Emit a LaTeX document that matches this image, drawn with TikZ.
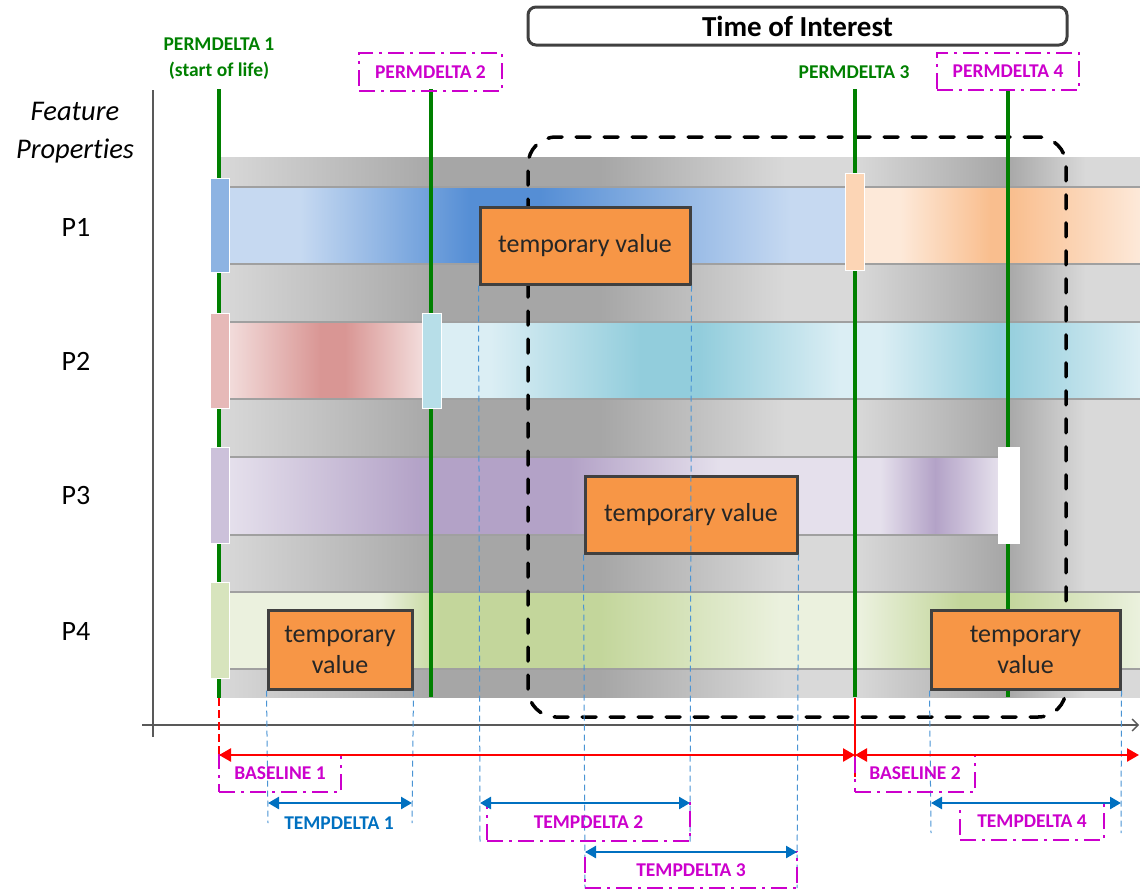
\documentclass[tikz,border=0pt]{standalone}
\usepackage{fontspec}
\setmainfont{Carlito}[Ligatures=NoCommon]
\usetikzlibrary{arrows.meta}

% band colours: light / deep tone of each property
\definecolor{gL}{HTML}{D9D9D9}
\definecolor{gD}{HTML}{A6A6A6}
\definecolor{bL}{HTML}{C6D9F1}
\definecolor{bD}{HTML}{558ED5}
\definecolor{oL}{HTML}{FDE9D9}
\definecolor{oD}{HTML}{F9BE8E}
\definecolor{rL}{HTML}{F2DCDB}
\definecolor{rD}{HTML}{D99694}
\definecolor{cL}{HTML}{DBEEF4}
\definecolor{cD}{HTML}{92CDDC}
\definecolor{vL}{HTML}{E5E0EC}
\definecolor{vD}{HTML}{B3A2C7}
\definecolor{eL}{HTML}{EBF1DE}
\definecolor{eD}{HTML}{C3D69B}
% marker colours
\definecolor{mkA}{HTML}{8DB3E2}
\definecolor{mkB}{HTML}{E6B9B8}
\definecolor{mkC}{HTML}{B7DEE8}
\definecolor{mkD}{HTML}{CCC1DA}
\definecolor{mkE}{HTML}{D7E4BD}
\definecolor{mkF}{HTML}{FCD5B5}
% line and text colours
\definecolor{permgreen}{HTML}{008000}
\definecolor{mag}{HTML}{CC00CC}
\definecolor{tblue}{HTML}{0070C0}
\definecolor{tdashblue}{HTML}{4A94D4}
\definecolor{tfill}{HTML}{F79646}
\definecolor{tborder}{HTML}{404040}
\definecolor{edgegray}{HTML}{A0A0A0}
\definecolor{axisgray}{HTML}{595959}

% horizontal gradient strip: #1 top, #2 bottom, #3 list of x1/colour1/x2/colour2
\newcommand\gradstrip[3]{%
  \foreach \xa/\ca/\xb/\cb in {#3}
    \shade[left color=\ca,right color=\cb] (\xa,#1) rectangle ({\xb+0.6},#2);}

\tikzset{
  permline/.style={permgreen, line width=4pt},
  bandedge/.style={edgegray, line width=1.2pt},
  marker/.style={draw=white, line width=1pt, minimum width=19pt, inner sep=0pt},
  tempbox/.style={fill=tfill, draw=tborder, line width=3pt, inner sep=0pt,
    font=\fontsize{26}{31}\selectfont, align=center, text=black!85},
  tagbox/.style={draw=mag, line width=2pt, dash pattern=on 16pt off 6pt on 3pt off 6pt,
    text=mag, font=\bfseries\fontsize{19.5}{23}\selectfont, inner sep=0pt},
  permtext/.style={text=permgreen, font=\bfseries\fontsize{19.5}{26}\selectfont, align=center, inner sep=0pt},
  proplabel/.style={font=\fontsize{28}{34}\selectfont, inner sep=0pt},
  toiregion/.style={draw=black, line width=3.5pt, dash pattern=on 14pt off 14pt,
    line cap=round, rounded corners=28pt, inner sep=0pt},
  toihead/.style={draw=tborder, fill=white, line width=3pt, rounded corners=8pt,
    font=\bfseries\fontsize{29}{34}\selectfont, inner sep=0pt},
  basearrow/.style={red, line width=2.5pt,
    {Triangle[length=12pt,width=13pt]}-{Triangle[length=12pt,width=13pt]}},
  temparrow/.style={tblue, line width=2.5pt,
    {Triangle[length=11pt,width=12pt]}-{Triangle[length=11pt,width=12pt]}},
  tempguide/.style={tdashblue, line width=1pt, dash pattern=on 6pt off 4pt},
  axisline/.style={axisgray, line width=1.3pt},
}

\begin{document}
\begin{tikzpicture}[x=1pt,y=-1pt]
\useasboundingbox (0,0) rectangle (1140,892);

% ---- axes ----
\coordinate (vax0) at (153,90);
\coordinate (vax1) at (153,737);
\coordinate (hax0) at (142,725);
\coordinate (hax1) at (1139,725);
\draw[axisline] (vax0) -- (vax1);
\draw[axisline, -{Straight Barb[length=6pt,width=12pt]}] (hax0) -- (hax1);

% ---- grey timeline band ----
\gradstrip{157}{697}{219/gL/440/gD, 440/gD/600/gD, 600/gD/785/gL, 785/gL/855/gL,
  855/gL/1005/gD, 1005/gD/1085/gL, 1085/gL/1140/gL}

% ---- property bands ----
% P1
\gradstrip{187}{264}{229/bL/300/bL, 300/bL/470/bD, 470/bD/540/bD, 540/bD/790/bL, 790/bL/846/bL}
\gradstrip{187}{264}{864/oL/900/oL, 900/oL/990/oD, 990/oD/1010/oD, 1010/oD/1139.4/oL}
% P2
\gradstrip{322}{399}{229/rL/320/rD, 320/rD/345/rD, 345/rD/422/rL}
\gradstrip{322}{399}{441/cL/490/cL, 490/cL/640/cD, 640/cD/700/cD, 700/cD/840/cL,
  840/cL/880/cL, 880/cL/1000/cD, 1000/cD/1139.4/cL}
% P3
\gradstrip{457}{535}{229/vL/420/vD, 420/vD/570/vD, 570/vD/720/vL, 720/vL/880/vL,
  880/vL/935/vD, 935/vD/998/vL}
% P4
\gradstrip{592}{669}{229/eL/380/eL, 380/eL/440/eD, 440/eD/600/eD, 600/eD/780/eL,
  780/eL/860/eL, 860/eL/960/eD, 960/eD/1007/eD, 1007/eD/1139.4/eL}

% band borders
\foreach \yy in {187,264,322,399,592,669}
  \draw[bandedge] (229,\yy) -- (1140,\yy);
\foreach \yy in {457,535}
  \draw[bandedge] (229,\yy) -- (998,\yy);

% ---- time of interest region ----
\node[toiregion, minimum width=538pt, minimum height=580pt] (toi) at (797,427) {};

% ---- permanent deltas ----
\coordinate (pd1t) at (219,89);  \coordinate (pd1b) at (219,698);
\coordinate (pd2t) at (431,89);  \coordinate (pd2b) at (431,697);
\coordinate (pd3t) at (855,89);  \coordinate (pd3b) at (855,697);
\coordinate (pd4t) at (1008,89); \coordinate (pd4b) at (1008,697);
\draw[permline] (pd1t) -- (pd1b);
\draw[permline] (pd2t) -- (pd2b);
\draw[permline] (pd3t) -- (pd3b);
\draw[permline] (pd4t) -- (pd4b);

% ---- value markers ----
\node[marker, fill=mkA, minimum height=94pt] (mP1) at (219.5,225) {};
\node[marker, fill=mkB, minimum height=95pt] (mP2) at (219.5,360.5) {};
\node[marker, fill=mkC, minimum height=95pt] (mP2b) at (431.5,360.5) {};
\node[marker, fill=mkD, minimum height=96pt] (mP3) at (219.5,495) {};
\node[marker, fill=white, minimum width=21pt, minimum height=96pt] (mP3b) at (1008.5,495) {};
\node[marker, fill=mkE, minimum height=96pt] (mP4) at (219.5,630) {};
\node[marker, fill=mkF, minimum height=97pt] (mP1b) at (854.5,221.5) {};

% ---- guide lines of the temporary values ----
\coordinate (g1a) at (268,823);  \coordinate (g1b) at (412,823);
\coordinate (g2a) at (480,842);  \coordinate (g2b) at (690,842);
\coordinate (g3a) at (585,888);  \coordinate (g3b) at (797,888);
\coordinate (g4a) at (931,833);  \coordinate (g4b) at (1121,833);

% ---- temporary values ----
\node[tempbox, minimum width=210pt, minimum height=77pt] (tv1) at (585,245.5) {temporary value};
\node[tempbox, minimum width=212pt, minimum height=77pt] (tv3) at (691,514.5) {temporary value};
\node[tempbox, minimum width=144pt, minimum height=79pt] (tv4a) at (340,649.5) {temporary\\value};
\node[tempbox, minimum width=189pt, minimum height=79pt] (tv4b) at (1025.5,649.5) {temporary\\value};

\draw[tempguide] (tv4a.south west) -- (g1a);
\draw[tempguide] (tv4a.south east) -- (g1b);
\draw[tempguide] (tv1.south west) -- (g2a);
\draw[tempguide] (tv1.south east) -- (g2b);
\draw[tempguide] (tv3.south west) -- (g3a);
\draw[tempguide] (tv3.south east) -- (g3b);
\draw[tempguide] (tv4b.south west) -- (g4a);
\draw[tempguide] (tv4b.south east) -- (g4b);

% ---- header ----
\node[toihead, minimum width=539pt, minimum height=38pt] (toititle) at (797.5,26) {Time of Interest};

% ---- left labels ----
\node[proplabel, font=\itshape\fontsize{28.5}{38}\selectfont, align=center] (feat) at (75,133) {Feature\\Properties};
\node[proplabel] (lP1) at (76,227) {P1};
\node[proplabel] (lP2) at (76,361) {P2};
\node[proplabel] (lP3) at (76,496) {P3};
\node[proplabel] (lP4) at (76,631) {P4};

% ---- permdelta labels ----
\node[permtext] (pdl1) at (219,59) {PERMDELTA 1\\(start of life)};
\node[tagbox, minimum width=143pt, minimum height=38pt] (pdl2) at (430.5,72) {PERMDELTA 2};
\node[permtext] (pdl3) at (854,72) {PERMDELTA 3};
\node[tagbox, minimum width=142pt, minimum height=37pt] (pdl4) at (1008,71.5) {PERMDELTA 4};

% ---- baselines ----
\coordinate (bv1a) at (219,698); \coordinate (bv1b) at (219,755);
\coordinate (bv2a) at (855,698); \coordinate (bv2b) at (855,777);
\draw[red, line width=2pt, dash pattern=on 8pt off 4pt] (bv1a) -- (bv1b);
\draw[red, line width=2pt] (bv2a) -- (bv2b);

\node[tagbox, minimum width=122pt, minimum height=37pt] (bl1) at (280,773.5) {BASELINE 1};
\node[tagbox, minimum width=120pt, minimum height=37pt] (bl2) at (915,773.5) {BASELINE 2};

\coordinate (ba1) at (219,755);
\coordinate (ba2) at (855,755);
\coordinate (ba3) at (1139,755);
\draw[basearrow] (ba1) -- (ba2);
\draw[basearrow] (ba2) -- (ba3);

% ---- temporary deltas ----
\node[tagbox, minimum width=203pt, minimum height=38pt] (tdl2) at (588.5,822) {TEMPDELTA 2};
\node[tagbox, minimum width=212pt, minimum height=36pt] (tdl3) at (691,870) {TEMPDELTA 3};
\node[tagbox, minimum width=144pt, minimum height=37pt] (tdl4) at (1032,821.5) {TEMPDELTA 4};
\node[text=tblue, font=\bfseries\fontsize{19.5}{23}\selectfont, inner sep=0pt] (tdl1) at (339,823) {TEMPDELTA 1};

\coordinate (t1a) at (268,803); \coordinate (t1b) at (412,803);
\coordinate (t2a) at (480,803); \coordinate (t2b) at (690,803);
\coordinate (t3a) at (585,852); \coordinate (t3b) at (797,852);
\coordinate (t4a) at (931,803); \coordinate (t4b) at (1121,803);
\draw[temparrow] (t1a) -- (t1b);
\draw[temparrow] (t2a) -- (t2b);
\draw[temparrow] (t3a) -- (t3b);
\draw[temparrow] (t4a) -- (t4b);
\end{tikzpicture}
\end{document}
